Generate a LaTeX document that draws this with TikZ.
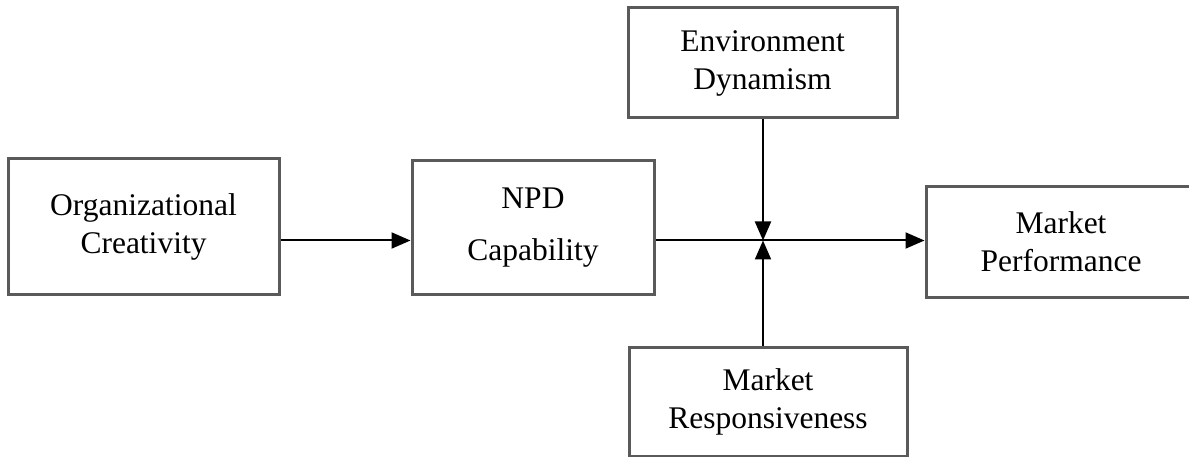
\documentclass[tikz,border=0pt]{standalone}
\usepackage{fontspec}
\setmainfont{Liberation Serif}
\usetikzlibrary{arrows.meta}
\begin{document}
\begin{tikzpicture}[x=1pt,y=1pt,
  box/.style={draw=boxgray,line width=3pt,fill=white,inner sep=0pt,align=center,
    font=\fontsize{31.5pt}{38pt}\selectfont},
  conn/.style={line width=2pt,draw=black,-{Triangle[length=19pt,width=16pt]}}]
\definecolor{boxgray}{HTML}{5A5A5A}
\useasboundingbox (0,0) rectangle (1189,-457);
\fill[white] (0,0) rectangle (1189,-457);
\node[box,minimum width=271pt,minimum height=135pt] (oc) at (143.5,-226.5) {Organizational\\Creativity};
\node[box,minimum width=242pt,minimum height=133pt] (npd) at (533,-227.5) {NPD\\[14pt]Capability};
\node[box,minimum width=269pt,minimum height=110pt] (env) at (762.5,-63) {Environment\\Dynamism};
\node[box,minimum width=270pt,minimum height=110pt] (mp) at (1061,-242) {Market\\Performance};
\node[box,minimum width=278pt,minimum height=109pt] (mr) at (768,-401.5) {Market\\Responsiveness};
\coordinate (j) at (763,-240.5);
\draw[conn] (oc.east |- j) -- (npd.west |- j);
\draw[conn] (npd.east |- j) -- (mp.west |- j);
\draw[conn] (env.south -| j) -- (j);
\draw[conn] (mr.north -| j) -- (j);
\end{tikzpicture}
\end{document}
